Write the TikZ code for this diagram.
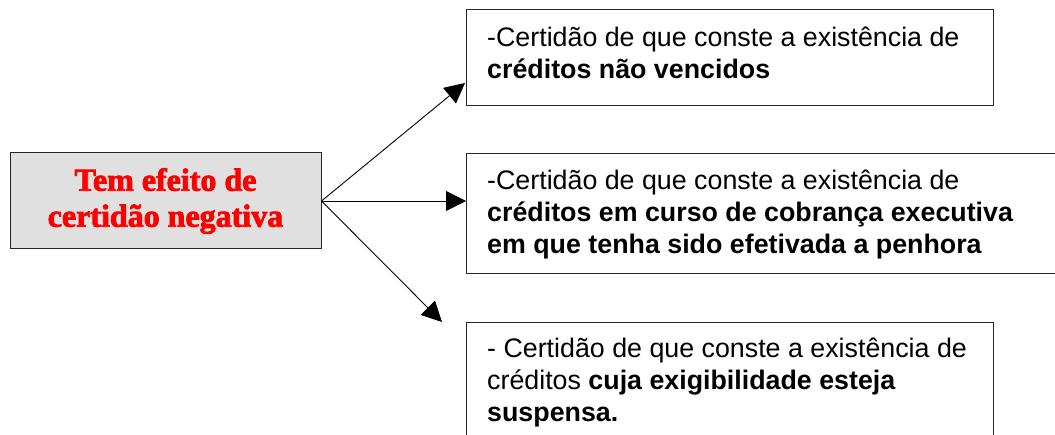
\documentclass[tikz,border=0pt]{standalone}
\usepackage{fontspec}
\setmainfont{Liberation Sans}
\newfontfamily\heavyserif{Liberation Serif}[BoldFeatures={FakeBold=2.6}]
\usetikzlibrary{arrows.meta}
\begin{document}
\begin{tikzpicture}[x=1pt,y=-1pt,
  box/.style={draw=black!85,line width=1pt,fill=white,inner sep=0pt,anchor=north west},
  leftbox/.style={draw=black!85,line width=1pt,fill=black!12,inner sep=0pt,
     minimum width=311pt,minimum height=96pt,align=center,text=red,
     font=\heavyserif\bfseries\fontsize{32}{36}\selectfont},
  txt/.style={inner sep=0pt,anchor=north west,align=left,
     font=\fontsize{26.8}{32}\selectfont},
  arr/.style={line width=0.9pt,-{Triangle[length=20pt,width=20pt]}}]
\useasboundingbox (0,0) rectangle (1055,435);
\clip (0,0) rectangle (1055,435);
\fill[white] (0,0) rectangle (1055,435);
% left box
\node[leftbox] (L) at (165.5,201) {Tem efeito de\\certidão negativa};
% right boxes
\node[box,minimum width=527pt,minimum height=96pt] (b1) at (466,9) {};
\node[box,minimum width=620pt,minimum height=120pt] (b2) at (466,153) {};
\node[box,minimum width=527pt,minimum height=140pt] (b3) at (466,322) {};
% texts
\node[txt] (t1) at (487,27) {-Certidão de que conste a existência de\\\textbf{créditos não vencidos}};
\node[txt] (t2) at (487,170) {-Certidão de que conste a existência de\\\textbf{créditos em curso de cobrança executiva}\\\textbf{em que tenha sido efetivada a penhora}};
\node[txt] (t3) at (487,338) {- Certidão de que conste a existência de\\créditos \textbf{cuja exigibilidade esteja}\\\textbf{suspensa.}};
% arrows
\coordinate (a1) at (465,83);
\coordinate (a3) at (442,322);
\draw[arr] (L.east) -- (a1);
\draw[arr] (L.east) -- (b2.west |- L.east);
\draw[arr] (L.east) -- (a3);
\end{tikzpicture}
\end{document}
